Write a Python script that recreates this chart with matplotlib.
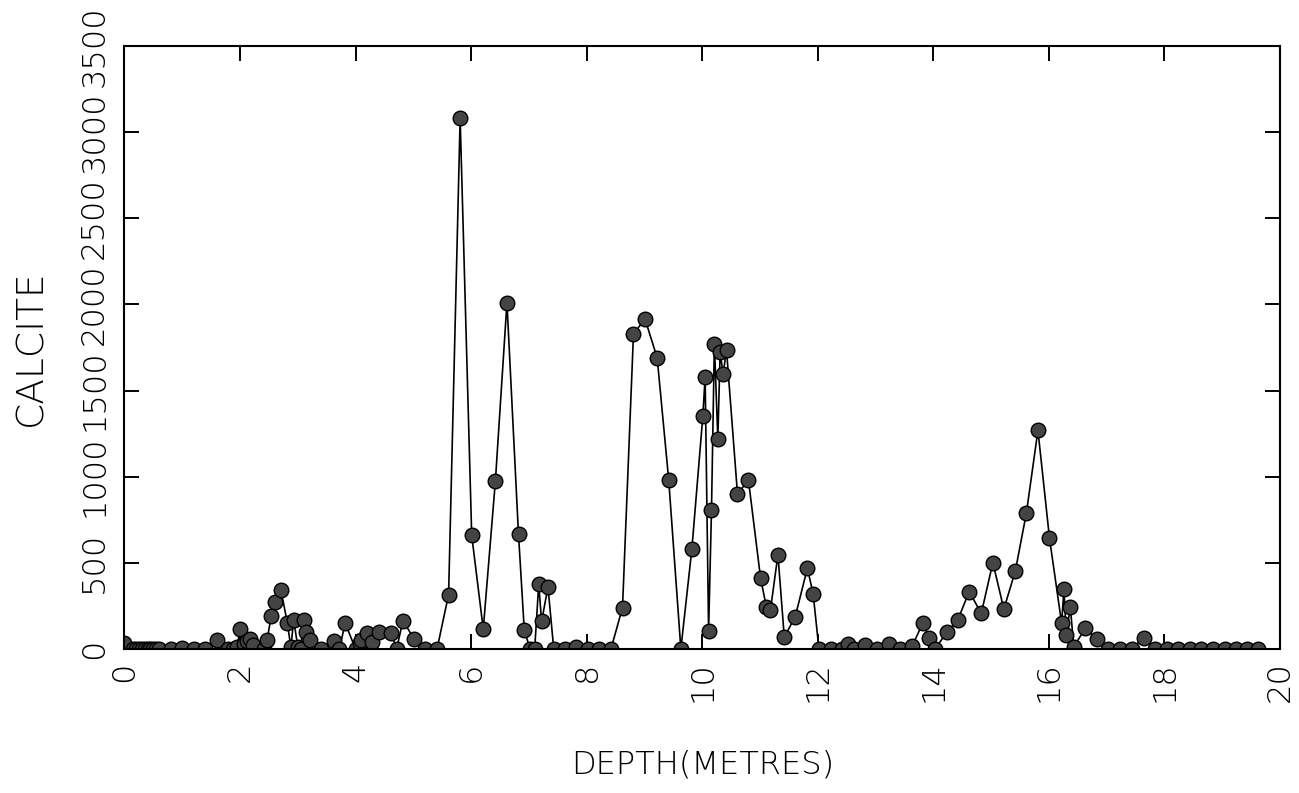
import matplotlib
matplotlib.use("Agg")
import matplotlib.pyplot as plt

# calcite counts down the core
depth = [0.0, 0.15, 0.2, 0.25, 0.3, 0.35, 0.4, 0.45, 0.5, 0.55, 0.6,
         0.8, 1.0, 1.2, 1.4, 1.6, 1.8, 1.88, 1.95, 2.0, 2.07, 2.12, 2.17, 2.22,
         2.42, 2.47, 2.54, 2.61, 2.71, 2.82, 2.88, 2.93, 3.0, 3.05, 3.1, 3.15, 3.21,
         3.4, 3.62, 3.72, 3.82, 4.0, 4.07, 4.1, 4.2, 4.28, 4.41, 4.61, 4.71, 4.82,
         5.01, 5.2, 5.41, 5.61, 5.81, 6.01, 6.21, 6.42, 6.62, 6.82, 6.92, 7.02, 7.1,
         7.17, 7.22, 7.33, 7.43, 7.62, 7.82, 8.02, 8.22, 8.42, 8.62, 8.81, 9.01,
         9.22, 9.42, 9.63, 9.82, 10.01, 10.05, 10.11, 10.16, 10.21, 10.27, 10.31,
         10.36, 10.42, 10.61, 10.80, 11.01, 11.11, 11.18, 11.31, 11.42, 11.61,
         11.82, 11.92, 12.02, 12.22, 12.42, 12.52, 12.62, 12.82, 13.02, 13.23,
         13.43, 13.63, 13.82, 13.93, 14.03, 14.23, 14.42, 14.62, 14.83, 15.03,
         15.22, 15.42, 15.61, 15.81, 16.01, 16.22, 16.26, 16.30, 16.37, 16.43,
         16.63, 16.83, 17.03, 17.23, 17.43, 17.64, 17.84, 18.04, 18.24, 18.44,
         18.64, 18.84, 19.04, 19.24, 19.43, 19.62]
calcite = [35, 0, 0, 0, 0, 0, 0, 0, 0, 0, 0,
           0, 5, 0, 0, 50, 0, 0, 10, 115, 30, 45, 60, 25,
           0, 55, 190, 270, 340, 150, 10, 170, 10, 0, 170, 100, 50,
           0, 45, 0, 150, 0, 35, 50, 95, 40, 100, 95, 0, 165,
           60, 0, 0, 315, 3080, 660, 115, 975, 2010, 665, 110, 0, 0,
           375, 160, 360, 0, 0, 10, 0, 0, 0, 240, 1830, 1915,
           1690, 980, 0, 578, 1350, 1580, 105, 805, 1770, 1220, 1725,
           1595, 1735, 900, 980, 410, 245, 225, 547, 68, 188,
           470, 318, 0, 0, 0, 27, 0, 25, 0, 27,
           0, 15, 152, 62, 0, 96, 167, 333, 207, 502,
           231, 455, 789, 1269, 643, 149, 347, 81, 246, 13,
           120, 56, 0, 0, 0, 66, 0, 0, 0, 0,
           0, 0, 0, 0, 0, 0]

x_ticks = [0, 2, 4, 6, 8, 10, 12, 14, 16, 18, 20]
y_ticks = [0, 500, 1000, 1500, 2000, 2500, 3000, 3500]

plt.rcParams['font.family'] = ['DejaVu Sans']

fig = plt.figure(figsize=(12.99, 7.93), dpi=100)
ax = fig.add_axes([0.0958, 0.1816, 0.8896, 0.7604])

ax.plot(depth, calcite, color='black', linewidth=1.2, marker='o',
        markersize=10.5, markerfacecolor='#444444', markeredgecolor='black',
        markeredgewidth=1.0)

ax.set_xlim(0, 20)
ax.set_ylim(0, 3500)
ax.set_xticks(x_ticks)
ax.set_yticks(y_ticks)
ax.set_xticklabels([str(t) for t in x_ticks], rotation=90, va='top',
                   ha='center', fontsize=23, fontweight='light')
ax.set_yticklabels([str(t) for t in y_ticks], rotation=90, va='center',
                   ha='right', fontsize=23, fontweight='light')

ax.tick_params(direction='in', length=11, width=1.4, top=True, right=True)
ax.tick_params(axis='x', pad=9)
ax.tick_params(axis='y', pad=11)
for s in ax.spines.values():
    s.set_linewidth(1.5)

ax.set_xlabel('DEPTH(METRES)', fontsize=23, fontweight='light', labelpad=34)
ax.set_ylabel('CALCITE', fontsize=27, fontweight='light', labelpad=22)

fig.savefig('out.png', dpi=100)
